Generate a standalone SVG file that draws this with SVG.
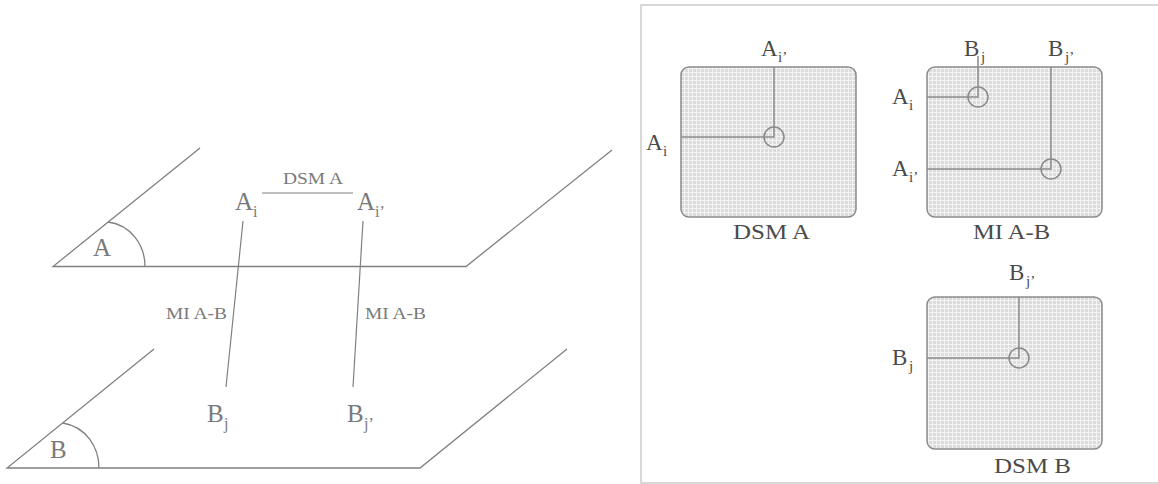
<svg xmlns="http://www.w3.org/2000/svg" width="1158" height="484" viewBox="0 0 1158 484">
<style>
.pl{fill:none;stroke:#808080;stroke-width:1.3}
.cn{fill:none;stroke:#808080;stroke-width:1.2}
.lt{font-family:"Liberation Serif","Times New Roman",serif;fill:#7a7a7a}
.big{font-size:25px}
.sub{font-size:16px}
.sm{font-size:17px}
.rt{font-family:"Liberation Serif","Times New Roman",serif;fill:#4a4a4a}
.rbig{font-size:23px}
.rsub{font-size:15px}
.rlab{font-size:21px}
.box{fill:url(#grid);stroke:#8a8a8a;stroke-width:1.5}
.ln{fill:none;stroke:#8a8a8a;stroke-width:1.5}
</style>
<defs>
<pattern id="grid" width="4" height="4" patternUnits="userSpaceOnUse">
<rect width="4" height="4" fill="#dcdcdc"/>
<rect width="4" height="1" fill="#f3f3f3"/>
<rect width="1" height="4" fill="#f3f3f3"/>
</pattern>
</defs>
<rect width="1158" height="484" fill="#ffffff"/>

<!-- left: planes -->
<g id="planeA">
<path class="pl" d="M200,148 L53,266.5 L466,266.5 L612,150"/>
<path class="pl" d="M108,222 C131,225 145,245 145,266.5"/>
<text class="lt big" x="93" y="256">A</text>
</g>
<g id="planeB">
<path class="pl" d="M154,349 L7,468 L420,468 L567,349"/>
<path class="pl" d="M63,423 C86,427 99,447 99,468"/>
<text class="lt big" x="50" y="458">B</text>
</g>

<g id="connectors">
<line class="cn" x1="262" y1="193" x2="353" y2="193"/>
<line class="cn" x1="243" y1="221" x2="226" y2="387"/>
<line class="cn" x1="363" y1="221" x2="353" y2="387"/>
<text class="lt sm" x="283" y="184" textLength="60" lengthAdjust="spacingAndGlyphs">DSM A</text>
<text class="lt sm" x="166" y="319" textLength="61" lengthAdjust="spacingAndGlyphs">MI A-B</text>
<text class="lt sm" x="365" y="319" textLength="61" lengthAdjust="spacingAndGlyphs">MI A-B</text>
</g>

<g id="nodeAi"><text class="lt big" x="235" y="210">A</text><text class="lt sub" x="253" y="217">i</text></g>
<g id="nodeAi2"><text class="lt big" x="357" y="210">A</text><text class="lt sub" x="375" y="217">i’</text></g>
<g id="nodeBj"><text class="lt big" x="207" y="422">B</text><text class="lt sub" x="224" y="429">j</text></g>
<g id="nodeBj2"><text class="lt big" x="347" y="422">B</text><text class="lt sub" x="364" y="429">j’</text></g>

<!-- right panel -->
<rect x="641" y="5" width="540" height="478" fill="none" stroke="#cccccc" stroke-width="1.5"/>

<g id="dsmA">
<rect class="box" x="681" y="67" width="175" height="150" rx="8"/>
<path class="ln" d="M774,67 V137 H681"/>
<circle class="ln" cx="774" cy="137" r="10"/>
<text class="rt rbig" x="761" y="56">A</text><text class="rt rsub" x="778" y="62">i’</text>
<text class="rt rbig" x="646" y="150">A</text><text class="rt rsub" x="663" y="156">i</text>
<text class="rt rlab" x="733" y="239" textLength="77" lengthAdjust="spacingAndGlyphs">DSM A</text>
</g>

<g id="miAB">
<rect class="box" x="927" y="67" width="175" height="150" rx="8"/>
<path class="ln" d="M978,56 V97 H927"/>
<circle class="ln" cx="978" cy="97" r="10"/>
<path class="ln" d="M1051,67 V169 H927"/>
<circle class="ln" cx="1051" cy="169" r="10"/>
<text class="rt rbig" x="964" y="56">B</text><text class="rt rsub" x="981" y="62">j</text>
<text class="rt rbig" x="1048" y="56">B</text><text class="rt rsub" x="1065" y="62">j’</text>
<text class="rt rbig" x="892" y="104">A</text><text class="rt rsub" x="909" y="110">i</text>
<text class="rt rbig" x="892" y="176">A</text><text class="rt rsub" x="909" y="182">i’</text>
<text class="rt rlab" x="973" y="239" textLength="77" lengthAdjust="spacingAndGlyphs">MI A-B</text>
</g>

<g id="dsmB">
<rect class="box" x="927" y="297" width="175" height="152" rx="8"/>
<path class="ln" d="M1019,297 V358 H927"/>
<circle class="ln" cx="1019" cy="358" r="10"/>
<text class="rt rbig" x="1009" y="280">B</text><text class="rt rsub" x="1026" y="286">j’</text>
<text class="rt rbig" x="892" y="365">B</text><text class="rt rsub" x="909" y="371">j</text>
<text class="rt rlab" x="994" y="473" textLength="77" lengthAdjust="spacingAndGlyphs">DSM B</text>
</g>
</svg>
